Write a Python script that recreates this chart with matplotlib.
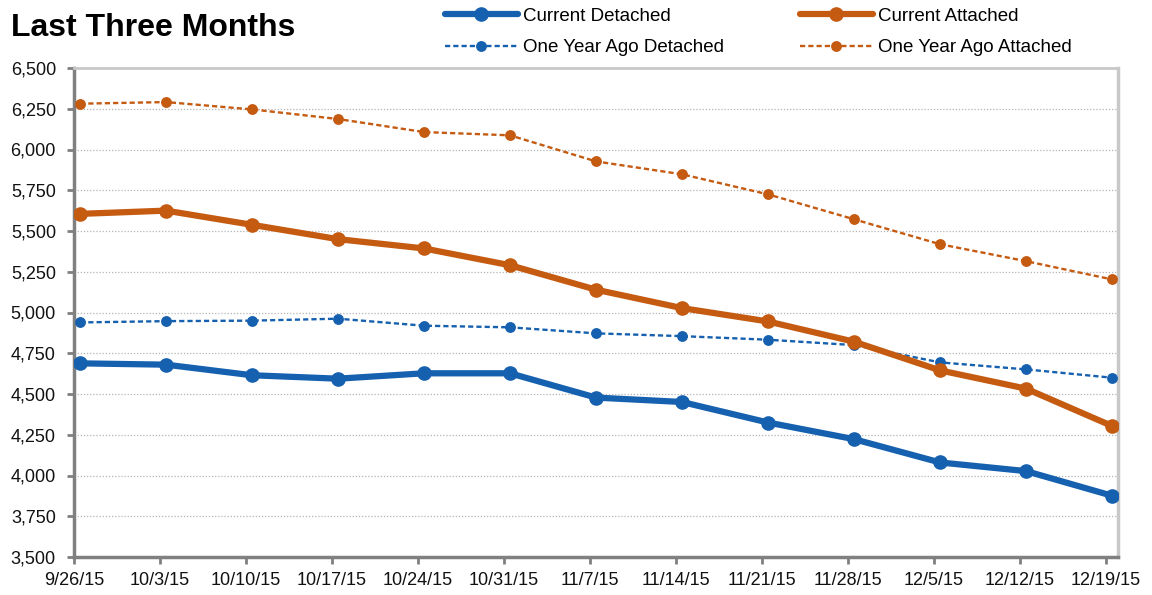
import matplotlib
matplotlib.use("Agg")
import matplotlib.pyplot as plt
import numpy as np

dates = ["9/26/15", "10/3/15", "10/10/15", "10/17/15", "10/24/15", "10/31/15",
         "11/7/15", "11/14/15", "11/21/15", "11/28/15", "12/5/15", "12/12/15", "12/19/15"]
current_detached = [4688, 4680, 4615, 4594, 4627, 4627, 4478, 4451, 4325, 4223, 4080, 4027, 3876]
current_attached = [5605, 5625, 5538, 5450, 5393, 5290, 5140, 5027, 4945, 4821, 4645, 4533, 4304]
ya_detached = [4939, 4947, 4950, 4962, 4919, 4909, 4872, 4855, 4833, 4800, 4694, 4651, 4600]
ya_attached = [6281, 6291, 6246, 6187, 6107, 6087, 5927, 5848, 5725, 5572, 5419, 5315, 5203]
yticks = [3500, 3750, 4000, 4250, 4500, 4750, 5000, 5250, 5500, 5750, 6000, 6250, 6500]

BLUE = "#1560AF"
ORANGE = "#C55A11"
FONT = ["Liberation Sans", "DejaVu Sans"]
plt.rcParams["font.family"] = FONT

fig = plt.figure(figsize=(11.52, 5.95), dpi=100)
ax = fig.add_axes([74 / 1152, 1 - 557 / 595, (1118 - 74) / 1152, (557 - 68) / 595])

x = np.arange(len(dates))
l1, = ax.plot(x, current_detached, color=BLUE, lw=4.5, marker="o", ms=9.5,
              label="Current Detached", solid_capstyle="round", zorder=4)
l2, = ax.plot(x, current_attached, color=ORANGE, lw=4.5, marker="o", ms=9.5,
              label="Current Attached", solid_capstyle="round", zorder=4)
l3, = ax.plot(x, ya_detached, color=BLUE, lw=1.7, marker="o", ms=6.8,
              ls=(0, (2.2, 1.3)), label="One Year Ago Detached", zorder=3)
l4, = ax.plot(x, ya_attached, color=ORANGE, lw=1.7, marker="o", ms=6.8,
              ls=(0, (2.2, 1.3)), label="One Year Ago Attached", zorder=3)

ax.set_ylim(3500, 6500)
ax.set_xlim(-0.03, 12.07)
ax.set_yticks(yticks)
ax.set_yticklabels([f"{v:,}" for v in yticks])
ax.set_xticks(x - 0.07)
ax.set_xticklabels(dates)
ax.yaxis.grid(True, ls=(0, (1, 1.5)), color="#B5B5B5", lw=0.9)
ax.set_axisbelow(True)

for s in ["left", "bottom"]:
    ax.spines[s].set_color("#808080")
    ax.spines[s].set_linewidth(2.5)
ax.spines["top"].set_color("#C8C8C8")
ax.spines["top"].set_linewidth(2)
ax.spines["right"].set_color("#C8C8C8")
ax.spines["right"].set_linewidth(2.5)

ax.tick_params(axis="both", which="major", labelsize=13, color="#808080",
               width=2, length=5, labelcolor="#111111")
ax.tick_params(axis="y", pad=8)
ax.tick_params(axis="x", pad=6)

fig.text(11 / 1152, 1 - 36 / 595, "Last Three Months", fontsize=23, fontweight="bold",
         family=["Liberation Sans Narrow", "Liberation Sans", "DejaVu Sans"],
         ha="left", va="baseline", color="#000000")

fig.legend(handles=[l1, l3, l2, l4], ncol=2, frameon=False, fontsize=13.5,
           loc="upper left", bbox_to_anchor=(441 / 1152, 1 - 4 / 595),
           handlelength=3.9, handletextpad=0.27, columnspacing=4.05,
           labelspacing=0.76, borderaxespad=0, borderpad=0.2)

fig.savefig("out.png", dpi=100)
